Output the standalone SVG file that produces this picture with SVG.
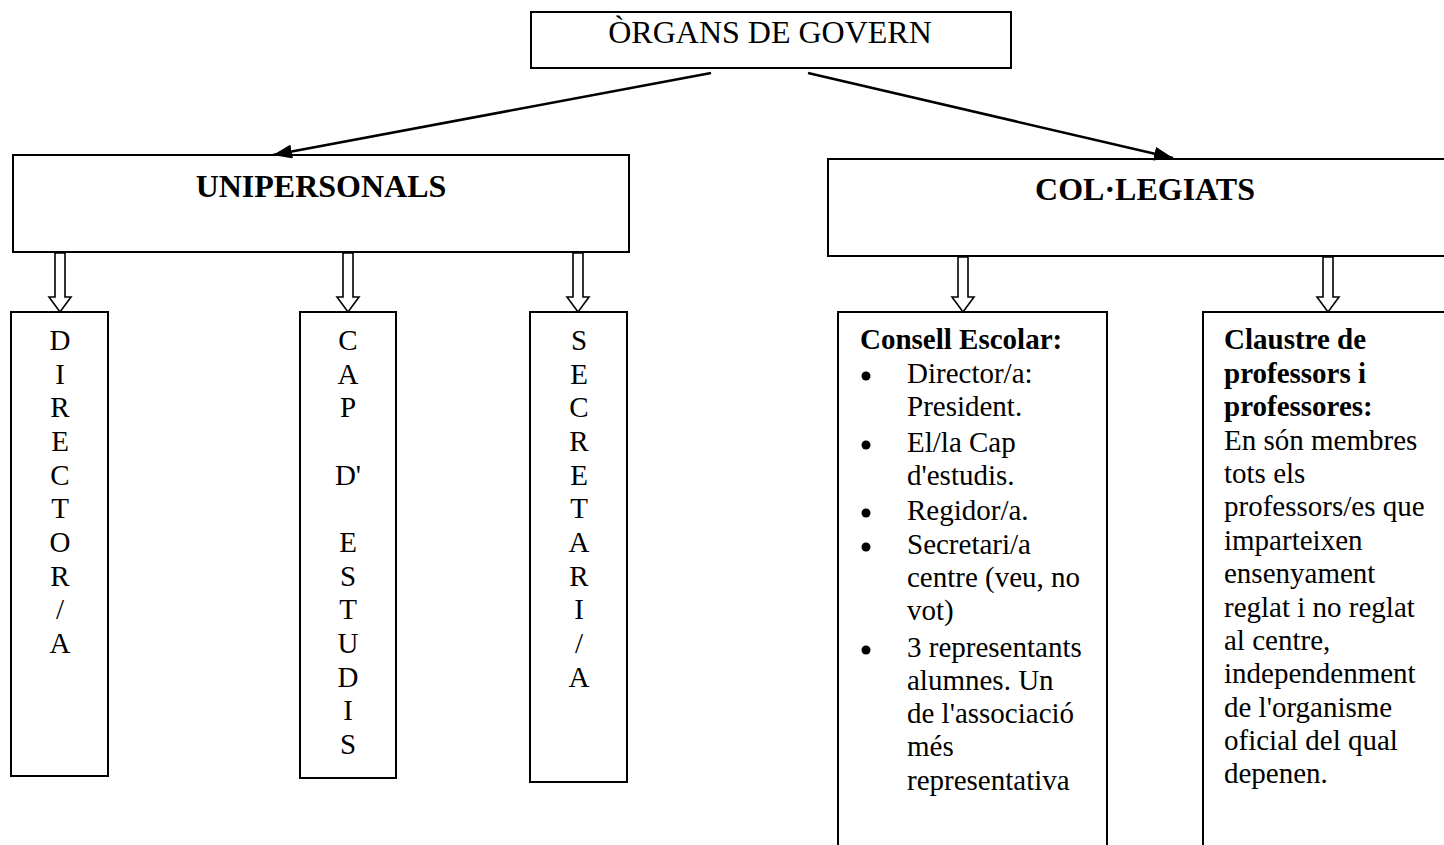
<svg xmlns="http://www.w3.org/2000/svg" width="1444" height="845" viewBox="0 0 1444 845">
<style>
.box{fill:#fff;stroke:#000;stroke-width:2}
.t{font-family:"Liberation Serif","Times New Roman",serif;fill:#000}
.h{font-size:32px}
.hb{font-size:32px;font-weight:bold}
.b{font-size:29px}
.bb{font-size:29px;font-weight:bold}
.v{font-size:29px;text-anchor:middle}
.c{text-anchor:middle}
.conn{stroke:#000;stroke-width:2.5;fill:none}
.hol{fill:#fff;stroke:#000;stroke-width:1.6}
</style>
<defs>
<marker id="ah" markerUnits="userSpaceOnUse" markerWidth="20" markerHeight="14" refX="19" refY="7" orient="auto">
<path d="M0,0 L19,7 L0,14 Z" fill="#000"/>
</marker>
</defs>
<rect width="1444" height="845" fill="#fff"/>

<g id="organs">
<rect class="box" x="531" y="12" width="480" height="56"/>
<text class="t h c" x="770" y="43">ÒRGANS DE GOVERN</text>
</g>

<g id="unipersonals">
<rect class="box" x="13" y="155" width="616" height="97"/>
<text class="t hb c" x="321" y="197">UNIPERSONALS</text>
</g>

<g id="collegiats">
<rect class="box" x="828" y="159" width="640" height="97"/>
<text class="t hb c" x="1145" y="200">COL·LEGIATS</text>
</g>

<g id="director">
<rect class="box" x="11" y="312" width="97" height="464"/>
<g class="t v">
<text x="60" y="350">D</text>
<text x="60" y="384">I</text>
<text x="60" y="417">R</text>
<text x="60" y="451">E</text>
<text x="60" y="485">C</text>
<text x="60" y="518">T</text>
<text x="60" y="552">O</text>
<text x="60" y="586">R</text>
<text x="60" y="619">/</text>
<text x="60" y="653">A</text>
</g>
</g>

<g id="capdestudis">
<rect class="box" x="300" y="312" width="96" height="466"/>
<g class="t v">
<text x="348" y="350">C</text>
<text x="348" y="384">A</text>
<text x="348" y="417">P</text>
<text x="348" y="485">D'</text>
<text x="348" y="552">E</text>
<text x="348" y="586">S</text>
<text x="348" y="619">T</text>
<text x="348" y="653">U</text>
<text x="348" y="687">D</text>
<text x="348" y="720">I</text>
<text x="348" y="754">S</text>
</g>
</g>

<g id="secretari">
<rect class="box" x="530" y="312" width="97" height="470"/>
<g class="t v">
<text x="579" y="350">S</text>
<text x="579" y="384">E</text>
<text x="579" y="417">C</text>
<text x="579" y="451">R</text>
<text x="579" y="485">E</text>
<text x="579" y="518">T</text>
<text x="579" y="552">A</text>
<text x="579" y="586">R</text>
<text x="579" y="619">I</text>
<text x="579" y="653">/</text>
<text x="579" y="687">A</text>
</g>
</g>

<g id="consell">
<rect class="box" x="838" y="312" width="269" height="560"/>
<text class="t bb" x="860" y="349">Consell Escolar:</text>
<g fill="#000">
<circle cx="866" cy="376" r="4.5"/>
<circle cx="866" cy="445" r="4.5"/>
<circle cx="866" cy="513" r="4.5"/>
<circle cx="866" cy="547" r="4.5"/>
<circle cx="866" cy="650" r="4.5"/>
</g>
<g class="t b">
<text x="907" y="383">Director/a:</text>
<text x="907" y="416">President.</text>
<text x="907" y="452">El/la Cap</text>
<text x="907" y="485">d'estudis.</text>
<text x="907" y="520">Regidor/a.</text>
<text x="907" y="554">Secretari/a</text>
<text x="907" y="587">centre (veu, no</text>
<text x="907" y="620">vot)</text>
<text x="907" y="657">3 representants</text>
<text x="907" y="690">alumnes. Un</text>
<text x="907" y="723">de l'associació</text>
<text x="907" y="756">més</text>
<text x="907" y="790">representativa</text>
</g>
</g>

<g id="claustre">
<rect class="box" x="1203" y="312" width="280" height="560"/>
<g class="t bb">
<text x="1224" y="349">Claustre de</text>
<text x="1224" y="383">professors i</text>
<text x="1224" y="416">professores:</text>
</g>
<g class="t b">
<text x="1224" y="450">En són membres</text>
<text x="1224" y="483">tots els</text>
<text x="1224" y="516">professors/es que</text>
<text x="1224" y="550">imparteixen</text>
<text x="1224" y="583">ensenyament</text>
<text x="1224" y="617">reglat i no reglat</text>
<text x="1224" y="650">al centre,</text>
<text x="1224" y="683">independenment</text>
<text x="1224" y="717">de l'organisme</text>
<text x="1224" y="750">oficial del qual</text>
<text x="1224" y="783">depenen.</text>
</g>
</g>

<g id="connectors">
<line class="conn" x1="711" y1="73" x2="273" y2="155" marker-end="url(#ah)"/>
<line class="conn" x1="808" y1="73" x2="1173" y2="158" marker-end="url(#ah)"/>
<path class="hol" d="M55,253 L65,253 L65,297 L71,297 L60,312 L49,297 L55,297 Z"/>
<path class="hol" d="M343,253 L353,253 L353,297 L359,297 L348,312 L337,297 L343,297 Z"/>
<path class="hol" d="M573,253 L583,253 L583,297 L589,297 L578,312 L567,297 L573,297 Z"/>
<path class="hol" d="M958,257 L968,257 L968,297 L974,297 L963,312 L952,297 L958,297 Z"/>
<path class="hol" d="M1323,257 L1333,257 L1333,297 L1339,297 L1328,312 L1317,297 L1323,297 Z"/>
</g>
</svg>
